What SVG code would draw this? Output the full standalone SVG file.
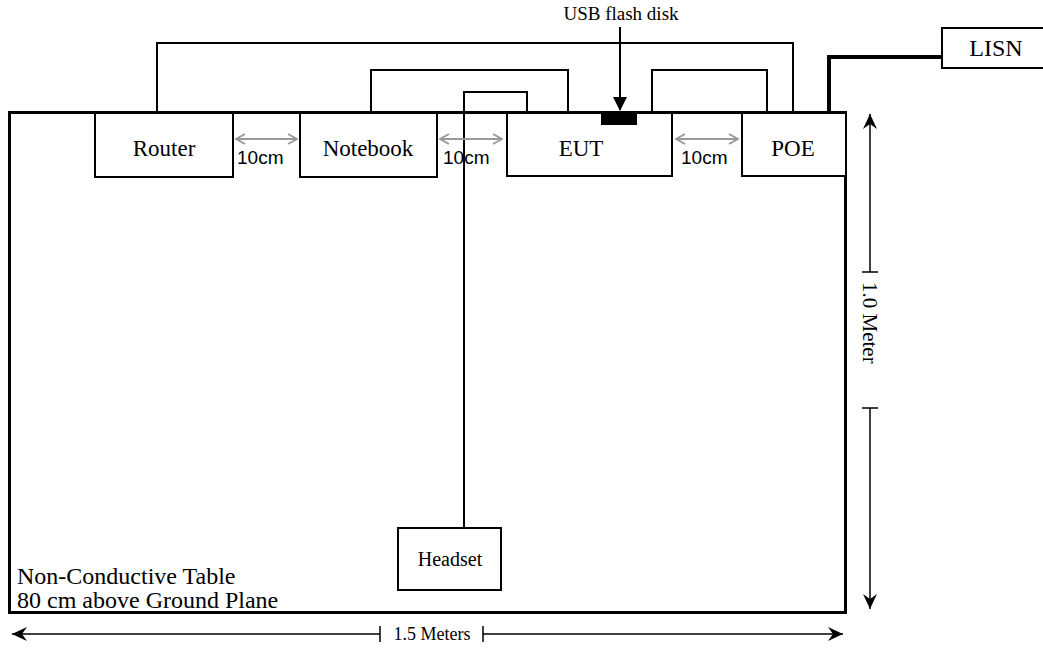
<svg xmlns="http://www.w3.org/2000/svg" width="1043" height="652" viewBox="0 0 1043 652">
<style>
.box{fill:#fff;stroke:#000;stroke-width:2}
.lbl{font-family:"Liberation Serif","Times New Roman",serif;font-size:23px;fill:#000}
.ar{font-family:"Liberation Sans",Arial,sans-serif;font-size:19px;fill:#000}
.w{fill:none;stroke:#000;stroke-width:2}
.g{fill:none;stroke:#999;stroke-width:2;marker-start:url(#ga);marker-end:url(#ga)}
.dim{fill:none;stroke:#000;stroke-width:1.5}
</style>
<defs>
<marker id="ga" viewBox="0 0 12 12" refX="11" refY="6" markerWidth="12" markerHeight="12" markerUnits="userSpaceOnUse" orient="auto-start-reverse">
<path d="M2,1 L11,6 L2,11" fill="none" stroke="#999" stroke-width="2"/>
</marker>
<marker id="ba" viewBox="0 0 16 16" refX="15" refY="8" markerWidth="16" markerHeight="16" markerUnits="userSpaceOnUse" orient="auto-start-reverse">
<path d="M0,1 L15,8 L0,15 L5,8 z" fill="#000"/>
</marker>
<marker id="ta" viewBox="0 0 14 14" refX="13" refY="7" markerWidth="14" markerHeight="14" markerUnits="userSpaceOnUse" orient="auto">
<path d="M0,0 L14,7 L0,14 z" fill="#000"/>
</marker>
</defs>
<g id="table">
<rect x="9.5" y="112.5" width="836" height="500" fill="#fff" stroke="#000" stroke-width="3"/>
<text class="lbl" x="17" y="584" style="font-size:24px">Non-Conductive Table</text>
<text class="lbl" x="17" y="608" style="font-size:24px">80 cm above Ground Plane</text>
</g>
<g id="connectors">
<path class="w" d="M157,113 V43 H793 V113"/>
<path class="w" d="M371,113 V70 H568 V113"/>
<path class="w" d="M652,113 V70 H767 V113"/>
<path class="w" d="M464,528 V92 H527 V113"/>
<path d="M829,113 V57 H942" fill="none" stroke="#000" stroke-width="4"/>
<line x1="620" y1="27" x2="620" y2="110" stroke="#000" stroke-width="2" marker-end="url(#ta)"/>
<line class="g" x1="236" y1="139" x2="297" y2="139"/>
<line class="g" x1="440" y1="139" x2="502" y2="139"/>
<line class="g" x1="676" y1="139" x2="738" y2="139"/>
</g>
<g id="router"><rect class="box" x="95" y="113" width="138" height="64"/><text class="lbl" x="164" y="156" text-anchor="middle">Router</text></g>
<g id="notebook"><rect class="box" x="300" y="113" width="137" height="64"/><text class="lbl" x="368" y="156" text-anchor="middle">Notebook</text></g>
<g id="eut"><rect class="box" x="507" y="113" width="165" height="63"/><text class="lbl" x="581" y="156" text-anchor="middle">EUT</text></g>
<g id="usb"><rect x="601" y="112" width="36" height="13" fill="#000"/><text class="lbl" x="621" y="20" text-anchor="middle" style="font-size:19px">USB flash disk</text></g>
<g id="poe"><rect class="box" x="742" y="113" width="104" height="63"/><text class="lbl" x="793" y="156" text-anchor="middle">POE</text></g>
<g id="lisn"><rect class="box" x="942" y="28" width="110" height="40"/><text class="lbl" x="996" y="56" text-anchor="middle" style="font-size:24px">LISN</text></g>
<g id="headset"><rect class="box" x="398" y="528" width="103" height="62"/><text class="lbl" x="450" y="566" text-anchor="middle" style="font-size:20px">Headset</text></g>
<g id="labels">
<text class="ar" x="237" y="164">10cm</text>
<text class="ar" x="443" y="164">10cm</text>
<text class="ar" x="681" y="164">10cm</text>
</g>
<g id="dimensions">
<line class="dim" x1="870" y1="272" x2="870" y2="114" marker-end="url(#ba)"/>
<line class="dim" x1="862" y1="272" x2="878" y2="272"/>
<line class="dim" x1="870" y1="408" x2="870" y2="609" marker-end="url(#ba)"/>
<line class="dim" x1="862" y1="408" x2="878" y2="408"/>
<text class="lbl" transform="translate(863,282) rotate(90)" style="font-size:21px">1.0 Meter</text>
<line class="dim" x1="380" y1="634" x2="12" y2="634" marker-end="url(#ba)"/>
<line class="dim" x1="380" y1="626" x2="380" y2="642"/>
<line class="dim" x1="483" y1="634" x2="843" y2="634" marker-end="url(#ba)"/>
<line class="dim" x1="483" y1="626" x2="483" y2="642"/>
<text class="lbl" x="432" y="640" text-anchor="middle" style="font-size:18px">1.5 Meters</text>
</g>
</svg>
